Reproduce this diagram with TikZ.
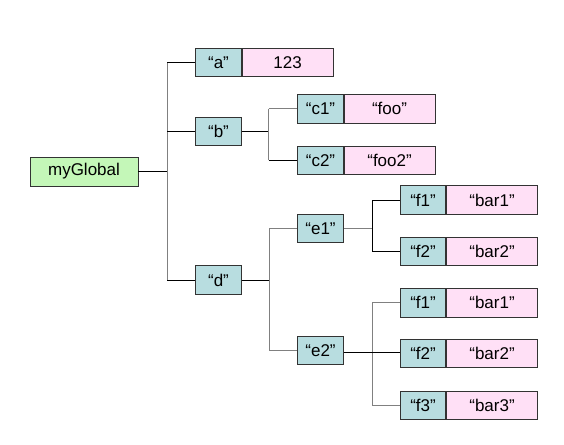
\documentclass[tikz,border=0pt]{standalone}
\usepackage{fontspec}
\setmainfont{Liberation Sans}
\definecolor{keyc}{HTML}{B8DDE0}
\definecolor{valc}{HTML}{FFE0F6}
\definecolor{rootc}{HTML}{C4F7B8}
\definecolor{lg}{HTML}{808080}
\begin{document}
\begin{tikzpicture}[x=1pt,y=-1pt,
  box/.style={draw=black!80, line width=0.8pt, inner sep=0pt, minimum height=28.5pt, font=\fontsize{17}{17}\selectfont},
  keybox/.style={box, fill=keyc, minimum width=45.5pt},
  valbox/.style={box, fill=valc, minimum width=91pt, anchor=west},
  rootbox/.style={box, fill=rootc, minimum width=108pt, minimum height=29pt},
  bl/.style={draw=black, line width=0.8pt},
  gl/.style={draw=lg, line width=0.8pt}]
\useasboundingbox (0,0) rectangle (564,444);
\node[rootbox] (g) at (84,171.5) {myGlobal};
\node[keybox] (a) at (218.5,62.5) {“a”};
\node[valbox] (av) at (a.east) {123};
\node[keybox] (b) at (218.5,131.5) {“b”};
\node[keybox] (d) at (218.5,280) {“d”};
\node[keybox] (c1) at (320.5,108.8) {“c1”};
\node[valbox] (c1v) at (c1.east) {“foo”};
\node[keybox] (c2) at (320.5,160.2) {“c2”};
\node[valbox] (c2v) at (c2.east) {“foo2”};
\node[keybox] (e1) at (320.5,228.5) {“e1”};
\node[keybox] (e2) at (320.5,350.5) {“e2”};
\node[keybox] (f1a) at (423,200) {“f1”};
\node[valbox] (f1av) at (f1a.east) {“bar1”};
\node[keybox] (f2a) at (423,251.5) {“f2”};
\node[valbox] (f2av) at (f2a.east) {“bar2”};
\node[keybox] (f1b) at (423,302.7) {“f1”};
\node[valbox] (f1bv) at (f1b.east) {“bar1”};
\node[keybox] (f2b) at (423,353.5) {“f2”};
\node[valbox] (f2bv) at (f2b.east) {“bar2”};
\node[keybox] (f3b) at (423,405.2) {“f3”};
\node[valbox] (f3bv) at (f3b.east) {“bar3”};
\coordinate (t) at (167,0);
\coordinate (tb) at (268.5,0);
\coordinate (td) at (269,0);
\coordinate (te) at (372,0);
\coordinate (k) at (0,352);
% root
\draw[bl] (g.east) -- (g.east -| t);
\draw[gl] (a.west -| t) -- (d.west -| t);
\draw[bl] (a.west -| t) -- (a.west);
\draw[bl] (b.west -| t) -- (b.west);
\draw[bl] (d.west -| t) -- (d.west);
% b
\draw[bl] (b.east) -- (b.east -| tb);
\draw[gl] (c1.west -| tb) -- (c2.west -| tb);
\draw[gl] (c1.west -| tb) -- (c1.west);
\draw[bl] (c2.west -| tb) -- (c2.west);
% d
\draw[bl] (d.east) -- (d.east -| td);
\draw[gl] (e1.west -| td) -- (e2.west -| td);
\draw[gl] (e1.west -| td) -- (e1.west);
\draw[gl] (e2.west -| td) -- (e2.west);
% e1
\draw[gl] (e1.east) -- (e1.east -| te);
\draw[bl] (f1a.west -| te) -- (f2a.west -| te);
\draw[bl] (f1a.west -| te) -- (f1a.west);
\draw[bl] (f2a.west -| te) -- (f2a.west);
% e2
\draw[gl] (f1b.west -| te) -- (f3b.west -| te);
\draw[gl] (f1b.west -| te) -- (f1b.west);
\draw[gl] (f3b.west -| te) -- (f3b.west);
\draw[bl] (k -| e2.east) -- (k -| f2b.west);
\end{tikzpicture}
\end{document}
